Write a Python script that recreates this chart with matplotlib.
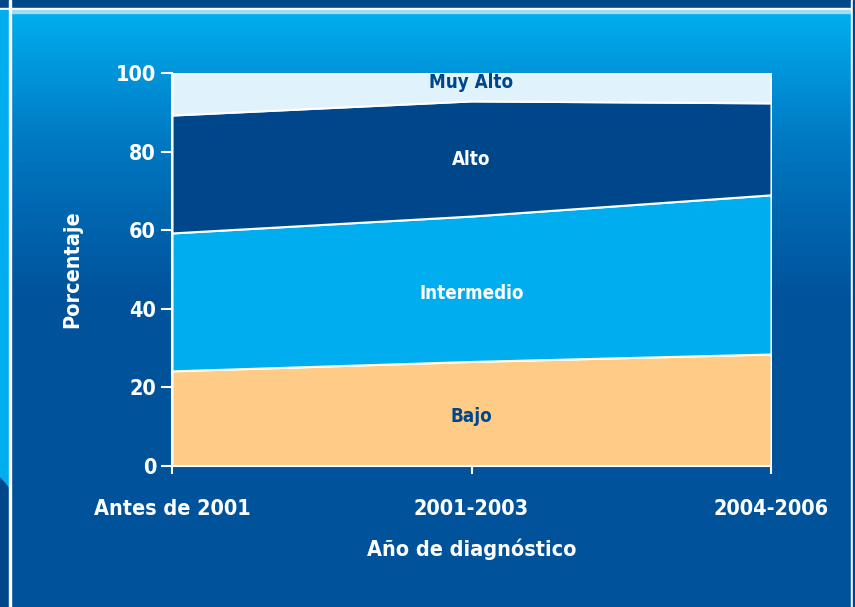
import numpy as np
import matplotlib
matplotlib.use('Agg')
import matplotlib.pyplot as plt
from matplotlib.patches import Rectangle, Polygon
from matplotlib.colors import LinearSegmentedColormap

plt.rcParams['font.family'] = ['DejaVu Sans']
plt.rcParams['font.stretch'] = 'condensed'
plt.rcParams['font.weight'] = 'bold'

# datos (porcentaje por periodo)
periodos = ['Antes de 2001', '2001-2003', '2004-2006']
bajo = [24.2, 26.6, 28.5]
intermedio = [35.1, 37.0, 40.5]
alto = [30.0, 29.3, 23.4]
muy_alto = [10.7, 7.1, 7.6]

colores = ['#FFCC88', '#00AEEF', '#00468A', '#E0F3FC']
etiquetas = ['Bajo', 'Intermedio', 'Alto', 'Muy Alto']
color_texto = ['#00468A', 'white', 'white', '#00468A']

W, H = 855, 607
fig = plt.figure(figsize=(W / 100, H / 100), dpi=100)

# fondo con degradado
bg = fig.add_axes([0, 0, 1, 1])
bg.axis('off')
cmap = LinearSegmentedColormap.from_list('fondo', [(0, '#00AEEF'), (0.45, '#0078C2'), (1, '#00529B')])
grad = np.linspace(0, 1, 300).reshape(-1, 1)
bg.imshow(grad, cmap=cmap, extent=[11, 851, 300, 12], aspect='auto', zorder=0)
bg.add_patch(Rectangle((11, 300), 840, H - 300, color='#00529B', zorder=0))
bg.add_patch(Rectangle((0, 0), W, 8, color='#00468A', zorder=1))
bg.add_patch(Rectangle((0, 8), W, 2, color='white', zorder=1))
bg.add_patch(Rectangle((11, 10), 840, 2.5, color='#9FDDF5', zorder=1))
bg.add_patch(Rectangle((0, 10), 8.5, H, color='#00AEEF', zorder=1))
bg.add_patch(Polygon([(0, 478), (8.5, 488), (8.5, H), (0, H)], color='#00468A', zorder=2))
bg.add_patch(Rectangle((8.5, 0), 2.5, H, color='white', zorder=2))
bg.add_patch(Rectangle((851, 0), 2, H, color='white', zorder=2))
bg.add_patch(Rectangle((853, 0), 2, H, color='#00468A', zorder=2))
bg.set_xlim(0, W)
bg.set_ylim(H, 0)

ax = fig.add_axes([172 / W, 1 - 466 / H, 599 / W, 393 / H])
ax.patch.set_alpha(0)
x = np.arange(len(periodos))
ax.stackplot(x, bajo, intermedio, alto, muy_alto, colors=colores,
             edgecolor='white', linewidth=1.5)

ax.set_xlim(0, 2)
ax.set_ylim(0, 100)
ax.set_xticks(x)
ax.set_xticklabels(periodos)
ax.set_yticks([0, 20, 40, 60, 80, 100])
for s in ['top', 'right']:
    ax.spines[s].set_visible(False)
for s in ['left', 'bottom']:
    ax.spines[s].set_color('white')
    ax.spines[s].set_linewidth(1.5)
ax.tick_params(colors='white', labelsize=15.5, width=1.5, length=8)
ax.tick_params(axis='x', pad=18, length=6)
ax.set_xlabel('Año de diagnóstico', color='white', fontsize=15.5, fontweight='bold', labelpad=14)
ax.set_ylabel('Porcentaje', color='white', fontsize=15.5, fontweight='bold', labelpad=24)

# etiquetas de zonas
pos_y = [12.7, 44, 78, 97.5]
for lab, yy, c in zip(etiquetas, pos_y, color_texto):
    ax.text(1, yy, lab, ha='center', va='center', color=c, fontsize=13.5, fontweight='bold')

fig.savefig('out.png', dpi=100)
